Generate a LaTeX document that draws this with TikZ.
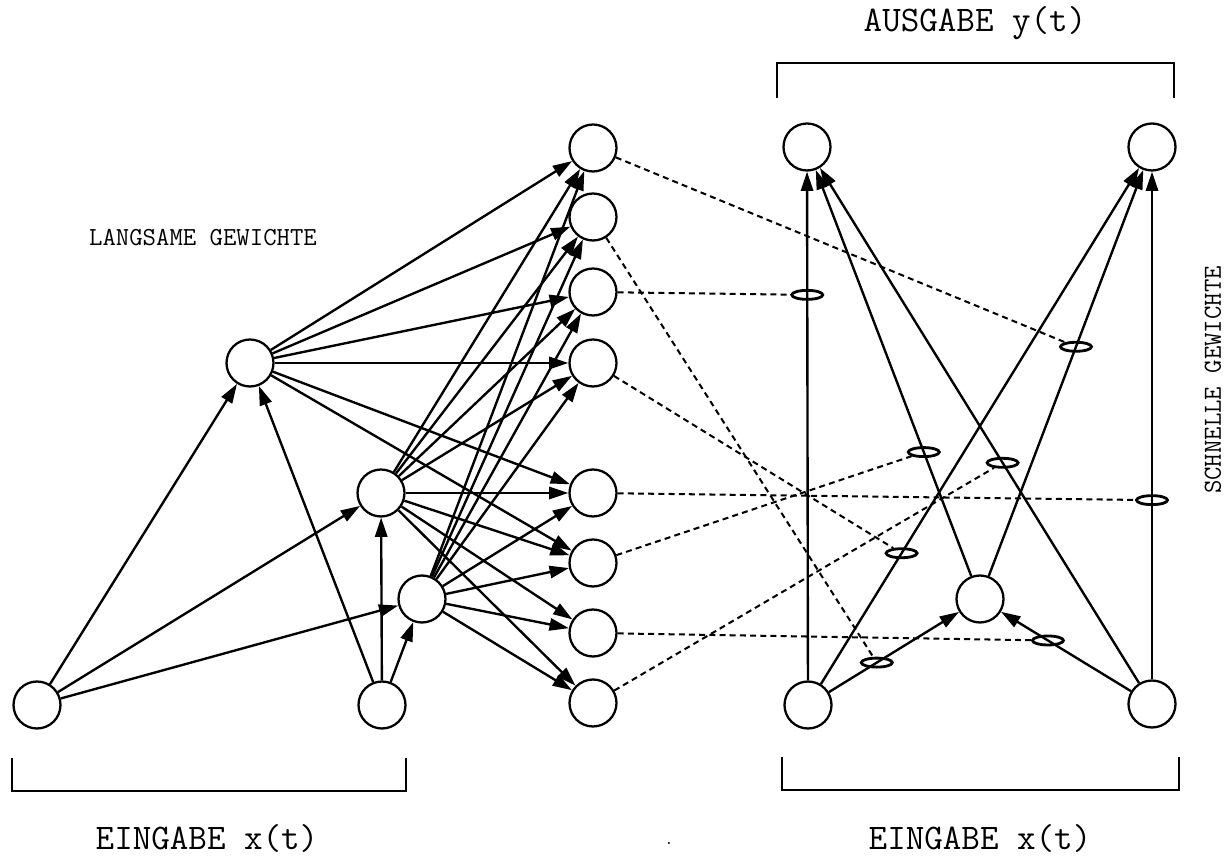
\documentclass[tikz,border=0pt]{standalone}
\usepackage{fontspec}
\usepackage{tikz}
\usetikzlibrary{arrows.meta,shapes.geometric,calc}
\tikzset{
  neuron/.style={circle,draw,line width=1.3pt,minimum size=9.4mm,inner sep=0pt},
  arrow/.style={-{Triangle[length=11pt,width=7pt]},line width=1.35pt},
  fastw/.style={ellipse,draw,line width=1.6pt,minimum width=6.2mm,minimum height=1.8mm,inner sep=0pt},
  modline/.style={line width=1.15pt,dash pattern=on 3.4pt off 2.4pt},
  bracket/.style={line width=1.2pt},
  biglabel/.style={font=\ttfamily\fontsize{20.5}{22}\selectfont,inner sep=0pt},
  smalllabel/.style={font=\ttfamily\fontsize{14.8}{16}\selectfont,inner sep=0pt}
}

\begin{document}
\begin{tikzpicture}[x=0.02cm,y=-0.02cm]
  \useasboundingbox (0,0) rectangle (1231,857);
  % slow net: inputs, hidden units, fast-weight controls
  \node[neuron] (A1) at (37,705) {};
  \node[neuron] (A2) at (382,705) {};
  \node[neuron] (H1) at (250,363) {};
  \node[neuron] (H2) at (381,493) {};
  \node[neuron] (H3) at (422,599) {};
  \node[neuron] (M1) at (593,148) {};
  \node[neuron] (M2) at (593,217) {};
  \node[neuron] (M3) at (593,292) {};
  \node[neuron] (M4) at (593,363) {};
  \node[neuron] (M5) at (593,493) {};
  \node[neuron] (M6) at (593,563) {};
  \node[neuron] (M7) at (593,633) {};
  \node[neuron] (M8) at (593,703) {};
  % fast net
  \node[neuron] (O1) at (807,147) {};
  \node[neuron] (O2) at (1152,147) {};
  \node[neuron] (R) at (980,599) {};
  \node[neuron] (B1) at (808,705) {};
  \node[neuron] (B2) at (1152,704) {};

  \draw[arrow] (A1)--(H1);
  \draw[arrow] (A1)--(H2);
  \draw[arrow] (A1)--(H3);
  \draw[arrow] (A2)--(H1);
  \draw[arrow] (A2)--(H2);
  \draw[arrow] (A2)--(H3);

  \draw[arrow] (H1)--(M1);
  \draw[arrow] (H1)--(M2);
  \draw[arrow] (H1)--(M3);
  \draw[arrow] (H1)--(M4);
  \draw[arrow] (H1)--(M5);
  \draw[arrow] (H1)--(M6);
  \draw[arrow] (H2)--(M1);
  \draw[arrow] (H2)--(M2);
  \draw[arrow] (H2)--(M3);
  \draw[arrow] (H2)--(M4);
  \draw[arrow] (H2)--(M5);
  \draw[arrow] (H2)--(M6);
  \draw[arrow] (H2)--(M7);
  \draw[arrow] (H2)--(M8);
  \draw[arrow] (H3)--(M1);
  \draw[arrow] (H3)--(M2);
  \draw[arrow] (H3)--(M3);
  \draw[arrow] (H3)--(M4);
  \draw[arrow] (H3)--(M5);
  \draw[arrow] (H3)--(M6);
  \draw[arrow] (H3)--(M7);
  \draw[arrow] (H3)--(M8);

  \draw[arrow] (B1)--(O1);
  \draw[arrow] (B1)--(O2);
  \draw[arrow] (B1)--(R);
  \draw[arrow] (B2)--(O1);
  \draw[arrow] (B2)--(O2);
  \draw[arrow] (B2)--(R);
  \draw[arrow] (R)--(O1);
  \draw[arrow] (R)--(O2);

  % weights of the fast net, set by the slow net
  \node[fastw] (F1) at ($(R)!0.558!(O2)$) {};
  \node[fastw] (F2) at ($(B1)!0.40!(R)$) {};
  \node[fastw] (F3) at ($(B1)!0.735!(O1)$) {};
  \node[fastw] (F4) at ($(B1)!0.272!(O2)$) {};
  \node[fastw] (F5) at ($(B2)!0.366!(O2)$) {};
  \node[fastw] (F6) at ($(R)!0.325!(O1)$) {};
  \node[fastw] (F7) at ($(B2)!0.605!(R)$) {};
  \node[fastw] (F8) at ($(B2)!0.433!(O1)$) {};
  \draw[modline] (M1)--(F1);
  \draw[modline] (M2)--(F2);
  \draw[modline] (M3)--(F3);
  \draw[modline] (M4)--(F4);
  \draw[modline] (M5)--(F5);
  \draw[modline] (M6)--(F6);
  \draw[modline] (M7)--(F7);
  \draw[modline] (M8)--(F8);

  % brackets and labels
  \draw[bracket] (12,758) |- (406,791) -- (406,758);
  \draw[bracket] (782,757) |- (1179,790) -- (1179,757);
  \draw[bracket] (777,98) |- (1174,63) -- (1174,98);
  \node[biglabel] (inL) at (207,838) {EINGABE x(t)};
  \node[biglabel] (inR) at (980,838) {EINGABE x(t)};
  \node[biglabel] (out) at (975,23) {AUSGABE y(t)};
  \node[smalllabel] (slow) at (203,238) {LANGSAME GEWICHTE};
  \node[smalllabel,rotate=90] (fast) at (1213,380) {SCHNELLE GEWICHTE};
  \node[font=\large,inner sep=0pt] (dot) at (669,843) {.};
\end{tikzpicture}
\end{document}
